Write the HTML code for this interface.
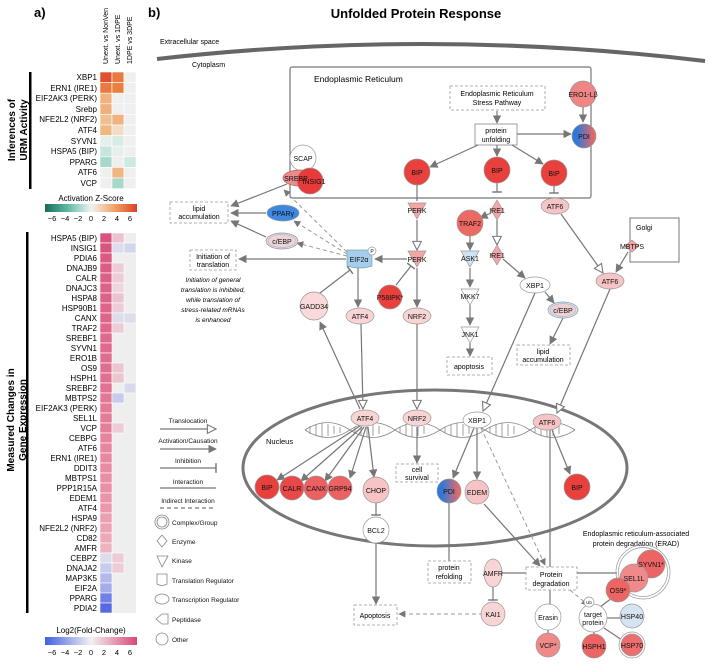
<!DOCTYPE html>
<html><head><meta charset="utf-8"><style>
html,body{margin:0;padding:0;background:#fff}
svg{display:block;font-family:"Liberation Sans",Arial,sans-serif}
</style></head><body>
<svg width="708" height="665" viewBox="0 0 708 665" xmlns="http://www.w3.org/2000/svg">
<defs>
<marker id="a" viewBox="0 0 10 10" refX="9" refY="5" markerWidth="7" markerHeight="7" orient="auto"><path d="M0,0L10,5L0,10z" fill="#777"/></marker>
<marker id="o" viewBox="0 0 10 10" refX="9" refY="5" markerWidth="9" markerHeight="9" orient="auto"><path d="M1,1L9,5L1,9z" fill="#fff" stroke="#777" stroke-width="1"/></marker>
<marker id="t" viewBox="0 0 10 10" refX="5" refY="5" markerWidth="8" markerHeight="8" orient="auto"><path d="M5,0L5,10" stroke="#777" stroke-width="1.5"/></marker>
<linearGradient id="pdi" x1="0" x2="1"><stop offset="0.2" stop-color="#2f78d8"/><stop offset="0.9" stop-color="#e36a6a"/></linearGradient>
<linearGradient id="zs" x1="0" x2="1"><stop offset="0" stop-color="#1a6b5a"/><stop offset="0.25" stop-color="#5fbca5"/><stop offset="0.5" stop-color="#f2f2f2"/><stop offset="0.75" stop-color="#f0a56a"/><stop offset="1" stop-color="#d84325"/></linearGradient>
<linearGradient id="fc" x1="0" x2="1"><stop offset="0" stop-color="#3f5fe0"/><stop offset="0.5" stop-color="#f2f2f2"/><stop offset="1" stop-color="#d94775"/></linearGradient>
</defs>

<!-- ===== Panel a ===== -->
<text x="34" y="17" font-size="13" font-weight="bold">a)</text>
<g font-size="7" text-anchor="start">
<text transform="translate(108,64) rotate(-90)">Unext. vs NonVen</text>
<text transform="translate(120,64) rotate(-90)">Unext. vs 1DPE</text>
<text transform="translate(132,64) rotate(-90)">1DPE vs 3DPE</text>
</g>
<rect x="29" y="72" width="2.5" height="117" fill="#000"/>
<text transform="translate(15,130) rotate(-90)" font-size="10" font-weight="bold" text-anchor="middle">Inferences of</text>
<text transform="translate(27,130) rotate(-90)" font-size="10" font-weight="bold" text-anchor="middle">URM Activity</text>
<g font-size="8" text-anchor="end">
<text x="97" y="80">XBP1</text><text x="97" y="91">ERN1 (IRE1)</text><text x="97" y="101">EIF2AK3 (PERK)</text><text x="97" y="112">Srebp</text><text x="97" y="122">NFE2L2 (NRF2)</text><text x="97" y="133">ATF4</text><text x="97" y="144">SYVN1</text><text x="97" y="154">HSPA5 (BIP)</text><text x="97" y="165">PPARG</text><text x="97" y="175">ATF6</text><text x="97" y="186">VCP</text>
</g>
<g stroke="#fff" stroke-width="0.6">
<rect x="100" y="72" width="12" height="10.6" fill="#e0502f"/><rect x="112" y="72" width="12" height="10.6" fill="#e8793f"/><rect x="124" y="72" width="12" height="10.6" fill="#efefef"/>
<rect x="100" y="82.6" width="12" height="10.6" fill="#e87a3f"/><rect x="112" y="82.6" width="12" height="10.6" fill="#e8803f"/><rect x="124" y="82.6" width="12" height="10.6" fill="#efefef"/>
<rect x="100" y="93.2" width="12" height="10.6" fill="#f0b27f"/><rect x="112" y="93.2" width="12" height="10.6" fill="#efefef"/><rect x="124" y="93.2" width="12" height="10.6" fill="#efefef"/>
<rect x="100" y="103.8" width="12" height="10.6" fill="#f0b07e"/><rect x="112" y="103.8" width="12" height="10.6" fill="#efefef"/><rect x="124" y="103.8" width="12" height="10.6" fill="#efefef"/>
<rect x="100" y="114.4" width="12" height="10.6" fill="#f0c090"/><rect x="112" y="114.4" width="12" height="10.6" fill="#f0b27f"/><rect x="124" y="114.4" width="12" height="10.6" fill="#efefef"/>
<rect x="100" y="125" width="12" height="10.6" fill="#f0b880"/><rect x="112" y="125" width="12" height="10.6" fill="#f2dcc8"/><rect x="124" y="125" width="12" height="10.6" fill="#efefef"/>
<rect x="100" y="135.6" width="12" height="10.6" fill="#e5efec"/><rect x="112" y="135.6" width="12" height="10.6" fill="#d8ece6"/><rect x="124" y="135.6" width="12" height="10.6" fill="#efefef"/>
<rect x="100" y="146.2" width="12" height="10.6" fill="#c5e5dd"/><rect x="112" y="146.2" width="12" height="10.6" fill="#e8eeec"/><rect x="124" y="146.2" width="12" height="10.6" fill="#efefef"/>
<rect x="100" y="156.8" width="12" height="10.6" fill="#a8d8cc"/><rect x="112" y="156.8" width="12" height="10.6" fill="#efefef"/><rect x="124" y="156.8" width="12" height="10.6" fill="#cce9e2"/>
<rect x="100" y="167.4" width="12" height="10.6" fill="#efefef"/><rect x="112" y="167.4" width="12" height="10.6" fill="#f0b880"/><rect x="124" y="167.4" width="12" height="10.6" fill="#efefef"/>
<rect x="100" y="178" width="12" height="10.6" fill="#efefef"/><rect x="112" y="178" width="12" height="10.6" fill="#a8d8cc"/><rect x="124" y="178" width="12" height="10.6" fill="#efefef"/>
</g>
<text x="91" y="201" font-size="8" text-anchor="middle">Activation Z-Score</text>
<rect x="45" y="204" width="92" height="8" fill="url(#zs)"/>
<g font-size="7.5" text-anchor="middle"><text x="52" y="221">−6</text><text x="65" y="221">−4</text><text x="78" y="221">−2</text><text x="91" y="221">0</text><text x="104" y="221">2</text><text x="117" y="221">4</text><text x="130" y="221">6</text></g>

<rect x="26" y="232" width="2.5" height="381" fill="#000"/>
<text transform="translate(14,420) rotate(-90)" font-size="10" font-weight="bold" text-anchor="middle">Measured Changes in</text>
<text transform="translate(26,420) rotate(-90)" font-size="10" font-weight="bold" text-anchor="middle">Gene Expression</text>
<g font-size="8" text-anchor="end">
<text x="97" y="241">HSPA5 (BIP)</text><text x="97" y="251">INSIG1</text><text x="97" y="261">PDIA6</text><text x="97" y="271">DNAJB9</text><text x="97" y="281">CALR</text><text x="97" y="291">DNAJC3</text><text x="97" y="301">HSPA8</text><text x="97" y="311">HSP90B1</text><text x="97" y="321">CANX</text><text x="97" y="331">TRAF2</text><text x="97" y="341">SREBF1</text><text x="97" y="351">SYVN1</text><text x="97" y="361">ERO1B</text><text x="97" y="371">OS9</text><text x="97" y="381">HSPH1</text><text x="97" y="391">SREBF2</text><text x="97" y="401">MBTPS2</text><text x="97" y="411">EIF2AK3 (PERK)</text><text x="97" y="421">SEL1L</text><text x="97" y="431">VCP</text><text x="97" y="441">CEBPG</text><text x="97" y="451">ATF6</text><text x="97" y="461">ERN1 (IRE1)</text><text x="97" y="471">DDIT3</text><text x="97" y="481">MBTPS1</text><text x="97" y="491">PPP1R15A</text><text x="97" y="501">EDEM1</text><text x="97" y="511">ATF4</text><text x="97" y="521">HSPA9</text><text x="97" y="531">NFE2L2 (NRF2)</text><text x="97" y="541">CD82</text><text x="97" y="551">AMFR</text><text x="97" y="561">CEBPZ</text><text x="97" y="571">DNAJA2</text><text x="97" y="581">MAP3K5</text><text x="97" y="591">EIF2A</text><text x="97" y="601">PPARG</text><text x="97" y="611">PDIA2</text>
</g>
<rect x="112" y="233" width="24" height="380" fill="#eeeeee"/>
<g stroke="#fff" stroke-width="0.6">
<rect x="100" y="233" width="12" height="10" fill="#d9557e"/><rect x="100" y="243" width="12" height="10" fill="#d9557e"/><rect x="100" y="253" width="12" height="10" fill="#db5a82"/><rect x="100" y="263" width="12" height="10" fill="#dc5d84"/><rect x="100" y="273" width="12" height="10" fill="#dc6086"/><rect x="100" y="283" width="12" height="10" fill="#dd6288"/><rect x="100" y="293" width="12" height="10" fill="#dd6288"/><rect x="100" y="303" width="12" height="10" fill="#de6589"/><rect x="100" y="313" width="12" height="10" fill="#de6589"/><rect x="100" y="323" width="12" height="10" fill="#df688b"/><rect x="100" y="333" width="12" height="10" fill="#df6a8d"/><rect x="100" y="343" width="12" height="10" fill="#df6a8d"/><rect x="100" y="353" width="12" height="10" fill="#e06c8f"/><rect x="100" y="363" width="12" height="10" fill="#e06e90"/><rect x="100" y="373" width="12" height="10" fill="#e07091"/><rect x="100" y="383" width="12" height="10" fill="#e17293"/><rect x="100" y="393" width="12" height="10" fill="#e27896"/><rect x="100" y="403" width="12" height="10" fill="#e27a98"/><rect x="100" y="413" width="12" height="10" fill="#e37c99"/><rect x="100" y="423" width="12" height="10" fill="#e47f9b"/><rect x="100" y="433" width="12" height="10" fill="#e5849f"/><rect x="100" y="443" width="12" height="10" fill="#e686a1"/><rect x="100" y="453" width="12" height="10" fill="#e788a2"/><rect x="100" y="463" width="12" height="10" fill="#e88ca5"/><rect x="100" y="473" width="12" height="10" fill="#e88ea6"/><rect x="100" y="483" width="12" height="10" fill="#e990a8"/><rect x="100" y="493" width="12" height="10" fill="#ea94ab"/><rect x="100" y="503" width="12" height="10" fill="#eb98ae"/><rect x="100" y="513" width="12" height="10" fill="#ec9eb2"/><rect x="100" y="523" width="12" height="10" fill="#eda2b5"/><rect x="100" y="533" width="12" height="10" fill="#eea8b9"/><rect x="100" y="543" width="12" height="10" fill="#efb2c0"/><rect x="100" y="553" width="12" height="10" fill="#dcdcea"/><rect x="100" y="563" width="12" height="10" fill="#c8cbec"/><rect x="100" y="573" width="12" height="10" fill="#b4b9ec"/><rect x="100" y="583" width="12" height="10" fill="#a4acea"/><rect x="100" y="593" width="12" height="10" fill="#7080e4"/><rect x="100" y="603" width="12" height="10" fill="#5868e0"/>
<rect x="112" y="233" width="12" height="10" fill="#ebc3cf"/><rect x="112" y="243" width="12" height="10" fill="#dcdcec"/><rect x="112" y="263" width="12" height="10" fill="#ecccd6"/><rect x="112" y="273" width="12" height="10" fill="#ecccd6"/><rect x="112" y="283" width="12" height="10" fill="#eed6dd"/><rect x="112" y="293" width="12" height="10" fill="#ebc3cf"/><rect x="112" y="303" width="12" height="10" fill="#ecccd6"/><rect x="112" y="313" width="12" height="10" fill="#dcdcec"/><rect x="112" y="323" width="12" height="10" fill="#ecccd6"/><rect x="112" y="363" width="12" height="10" fill="#ebc6d1"/><rect x="112" y="373" width="12" height="10" fill="#ebc6d1"/><rect x="112" y="393" width="12" height="10" fill="#c8cbec"/><rect x="112" y="423" width="12" height="10" fill="#ecccd6"/><rect x="112" y="553" width="12" height="10" fill="#ecccd6"/><rect x="112" y="563" width="12" height="10" fill="#ecccd6"/>
<rect x="124" y="243" width="12" height="10" fill="#d4d6ec"/><rect x="124" y="313" width="12" height="10" fill="#dcdcea"/><rect x="124" y="383" width="12" height="10" fill="#d8d9ec"/>
</g>
<text x="91" y="633" font-size="8" text-anchor="middle">Log2(Fold-Change)</text>
<rect x="45" y="637" width="92" height="8" fill="url(#fc)"/>
<g font-size="7.5" text-anchor="middle"><text x="52" y="655">−6</text><text x="65" y="655">−4</text><text x="78" y="655">−2</text><text x="91" y="655">0</text><text x="104" y="655">2</text><text x="117" y="655">4</text><text x="130" y="655">6</text></g>

<!-- ===== Panel b ===== -->
<text x="148" y="17" font-size="13" font-weight="bold">b)</text>
<text x="416" y="18" font-size="13" font-weight="bold" text-anchor="middle">Unfolded Protein Response</text>
<text x="160" y="44" font-size="7">Extracellular space</text>
<path d="M157,59 Q430,28 705,61" fill="none" stroke="#666" stroke-width="4"/>
<text x="192" y="67" font-size="7">Cytoplasm</text>

<rect x="290" y="67" width="301" height="131" fill="none" stroke="#777" stroke-width="1.2" rx="2"/>
<text x="314" y="82" font-size="8.5">Endoplasmic Reticulum</text>
<rect x="450" y="86" width="95" height="24" fill="#fff" stroke="#999" stroke-dasharray="3,2" stroke-width="0.8"/>
<text x="497" y="96" font-size="7" text-anchor="middle">Endoplasmic Reticulum</text><text x="497" y="105" font-size="7" text-anchor="middle">Stress Pathway</text>
<rect x="475" y="124" width="42" height="21" fill="#fff" stroke="#888" stroke-width="0.8"/>
<text x="496" y="133" font-size="7" text-anchor="middle">protein</text><text x="496" y="142" font-size="7" text-anchor="middle">unfolding</text>

<!-- Golgi -->
<rect x="630" y="218" width="49" height="44" fill="#fff" stroke="#777" stroke-width="1"/>
<text x="636" y="230" font-size="7">Golgi</text>

<!-- Nucleus -->
<ellipse cx="435" cy="468" rx="192" ry="78" fill="none" stroke="#777" stroke-width="3"/>
<text x="266" y="444" font-size="7.5">Nucleus</text>
<g fill="none" stroke="#888" stroke-width="0.8">
<path d="M305,430 C320,420 335,420 350,430 S380,440 395,430 S425,420 440,430 S470,440 485,430 S515,420 530,430 S560,440 575,430"/>
<path d="M305,430 C320,440 335,440 350,430 S380,420 395,430 S425,440 440,430 S470,420 485,430 S515,440 530,430 S560,420 575,430"/>
<path d="M310,426v8M316,424v12M322,423v14M328,424v12M334,426v8M340,427v6M355,427v6M361,425v10M367,423v14M373,424v12M379,426v8M400,427v6M406,425v10M412,423v14M418,424v12M424,426v8M445,427v6M451,425v10M457,423v14M463,424v12M469,426v8M490,427v6M496,425v10M502,423v14M508,424v12M514,426v8M535,427v6M541,425v10M547,423v14M553,424v12M559,426v8"/>
</g>

<!-- connectors -->
<g stroke="#777" stroke-width="1.2" fill="none">
<path d="M497,111V123" marker-end="url(#a)"/>
<path d="M517,134H571" marker-end="url(#a)"/>
<path d="M478,145L430,167" marker-end="url(#a)"/>
<path d="M497,145V156" marker-end="url(#a)"/>
<path d="M512,145L543,164" marker-end="url(#a)"/>
<path d="M583,107V122" marker-end="url(#a)"/>
<path d="M417,185V201"/>
<path d="M497,183V192" marker-end="url(#t)"/>
<path d="M554,186V193" marker-end="url(#t)"/>
<path d="M417,220V250" marker-end="url(#o)"/>
<path d="M407,259H375" marker-end="url(#a)"/>
<path d="M417,268V307" marker-end="url(#a)"/>
<path d="M358,268V307" marker-end="url(#a)"/>
<path d="M346,259H239" marker-end="url(#a)"/>
<path d="M320,293L350,270" marker-end="url(#t)"/>
<path d="M396,285L411,266" marker-end="url(#t)"/>
<path d="M287,184L231,206" marker-end="url(#a)"/>
<path d="M266,213H231" marker-end="url(#a)"/>
<path d="M266,237L231,221" marker-end="url(#a)"/>
<path d="M491,213L480,218" marker-end="url(#a)"/>
<path d="M497,220V245" marker-end="url(#o)"/>
<path d="M470,236V250" marker-end="url(#a)"/>
<path d="M470,268V287" marker-end="url(#a)"/>
<path d="M470,305V325" marker-end="url(#a)"/>
<path d="M470,343V356" marker-end="url(#a)"/>
<path d="M503,259L525,278" marker-end="url(#a)"/>
<path d="M545,292L554,303" marker-end="url(#a)"/>
<path d="M563,318L550,344" marker-end="url(#a)"/>
<path d="M561,214L603,273" marker-end="url(#o)"/>
<path d="M628,252L616,272" marker-end="url(#a)"/>
<path d="M535,293L483,411" marker-end="url(#o)"/>
<path d="M610,289L557,413" marker-end="url(#o)"/>
<path d="M360,409L320,322" marker-end="url(#a)"/>
<path d="M361,324L363,409" marker-end="url(#o)"/>
<path d="M417,324V409" marker-end="url(#o)"/>
<path d="M360,426L277,480" marker-end="url(#a)"/>
<path d="M362,427L301,481" marker-end="url(#a)"/>
<path d="M364,427L325,481" marker-end="url(#a)"/>
<path d="M366,427L350,478" marker-end="url(#a)"/>
<path d="M368,427L374,477" marker-end="url(#a)"/>
<path d="M376,503V515" marker-end="url(#t)"/>
<path d="M376,543V604" marker-end="url(#a)"/>
<path d="M417,427V463" marker-end="url(#a)"/>
<path d="M474,428L453,478" marker-end="url(#a)"/>
<path d="M477,428V479" marker-end="url(#a)"/>
<path d="M484,504L540,566" marker-end="url(#a)"/>
<path d="M552,430L570,474" marker-end="url(#a)"/>
<path d="M550,430V567"/>
<path d="M449,503V561"/>
<path d="M502,573H526"/>
<path d="M493,587V600" marker-end="url(#t)"/>
<path d="M577,573H617"/>
<path d="M550,590V604"/>
<path d="M548,630V634"/>
<path d="M600,607L612,598"/>
<path d="M607,618H620"/>
<path d="M594,632V634"/>
<path d="M604,628L622,640"/>
</g>
<g stroke="#999" stroke-width="1" fill="none" stroke-dasharray="4,3">
<path d="M347,252L284,190" marker-end="url(#a)"/>
<path d="M347,254L294,221" marker-end="url(#a)"/>
<path d="M347,256L297,243" marker-end="url(#a)"/>
<path d="M481,428L545,565" marker-end="url(#a)"/>
<path d="M483,614H399" marker-end="url(#a)"/>
<path d="M570,590L588,605" marker-end="url(#a)"/>
</g>

<!-- dashed boxes -->
<g fill="#fff" stroke="#999" stroke-dasharray="3,2" stroke-width="0.8">
<rect x="170" y="202" width="58" height="21"/>
<rect x="190" y="250" width="46" height="20"/>
<rect x="447" y="357" width="45" height="18"/>
<rect x="517" y="345" width="53" height="20"/>
<rect x="396" y="464" width="42" height="18"/>
<rect x="428" y="561" width="43" height="22"/>
<rect x="526" y="567" width="51" height="23"/>
<rect x="354" y="605" width="43" height="20"/>
</g>
<g font-size="7" text-anchor="middle">
<text x="199" y="211">lipid</text><text x="199" y="219">accumulation</text>
<text x="213" y="259">Initiation of</text><text x="213" y="267">translation</text>
<text x="469" y="369">apoptosis</text>
<text x="543" y="354">lipid</text><text x="543" y="362">accumulation</text>
<text x="417" y="472">cell</text><text x="417" y="480">survival</text>
<text x="449" y="570">protein</text><text x="449" y="579">refolding</text>
<text x="551" y="577">Protein</text><text x="551" y="586">degradation</text>
<text x="375" y="618">Apoptosis</text>
</g>
<g font-size="6.5" font-style="italic" text-anchor="middle">
<text x="213" y="282">Initiation of general</text><text x="213" y="292">translation is inhibited,</text><text x="213" y="302">while translation of</text><text x="213" y="312">stress-related mRNAs</text><text x="213" y="322">is enhanced</text>
</g>
<g font-size="7" text-anchor="middle">
<text x="636" y="536">Endoplasmic reticulum-associated</text><text x="636" y="546">protein degradation (ERAD)</text>
</g>

<!-- nodes -->
<g stroke="#999" stroke-width="0.7" font-size="7" text-anchor="middle">
<circle cx="583" cy="94" r="13" fill="#ef8585"/>
<circle cx="584" cy="136" r="12" fill="url(#pdi)"/>
<circle cx="417" cy="172" r="13" fill="#e8403c"/>
<circle cx="497" cy="170" r="13" fill="#e8403c"/>
<circle cx="554" cy="173" r="13" fill="#e8403c"/>
<circle cx="303" cy="158" r="13" fill="#fff"/>
<ellipse cx="300" cy="178" rx="17" ry="8" fill="#ef8a8a" stroke="#a66"/>
<circle cx="310" cy="181" r="13" fill="#e83a3a"/>
<ellipse cx="283" cy="213" rx="16" ry="8" fill="#3e88e0"/>
<ellipse cx="282" cy="241" rx="16" ry="8" fill="#f5d5d5" stroke="#89a"/>
<ellipse cx="282" cy="241" rx="14" ry="6.5" fill="#eed4d8" stroke="#abc"/>
<path d="M347,250H372V266Q360,270 347,266Z" fill="#a6ccf0" stroke="#7a9"/>
<circle cx="372" cy="251" r="4" fill="#fff"/>
<path d="M408,203H426L417,219Z" fill="#f4a5a5"/>
<path d="M408,251H426L417,267Z" fill="#f4a5a5"/>
<circle cx="390" cy="297" r="12" fill="#e8403c"/>
<circle cx="314" cy="306" r="14" fill="#f9d9d9"/>
<ellipse cx="360" cy="316" rx="14" ry="8" fill="#f9d4d4"/>
<ellipse cx="417" cy="316" rx="14" ry="8" fill="#f9d4d4"/>
<path d="M497,200L503,210L497,220L491,210Z" fill="#f4a5a5"/>
<path d="M497,245L503,255L497,265L491,255Z" fill="#f4a5a5"/>
<circle cx="470" cy="223" r="13" fill="#ec6a62"/>
<path d="M461,251H479L470,267Z" fill="#cfe3f5"/>
<path d="M461,289H479L470,305Z" fill="#fff"/>
<path d="M461,327H479L470,343Z" fill="#fff"/>
<ellipse cx="555" cy="206" rx="14" ry="8" fill="#f6c4c4"/>
<path d="M632,240L639,246L632,252L625,246Z" fill="#f4a5a5"/>
<ellipse cx="610" cy="281" rx="14" ry="8" fill="#f6c4c4"/>
<ellipse cx="535" cy="285" rx="15" ry="8" fill="#fff"/>
<ellipse cx="563" cy="310" rx="15" ry="8" fill="#dde8f3" stroke="#89a"/>
<ellipse cx="563" cy="310" rx="13" ry="6.5" fill="#eed0d4" stroke="#abc"/>
<ellipse cx="365" cy="418" rx="14" ry="8" fill="#f9d4d4"/>
<ellipse cx="417" cy="418" rx="14" ry="8" fill="#f9d4d4"/>
<ellipse cx="477" cy="420" rx="14" ry="8" fill="#fff"/>
<ellipse cx="547" cy="422" rx="14" ry="8" fill="#f6c4c4"/>
<circle cx="267" cy="487" r="12" fill="#e8403c"/>
<circle cx="292" cy="488" r="12" fill="#e84848"/>
<circle cx="316" cy="488" r="12" fill="#ec6060"/>
<circle cx="340" cy="488" r="12" fill="#ec6262"/>
<circle cx="376" cy="490" r="13" fill="#f6c4c4"/>
<circle cx="376" cy="530" r="13" fill="#fff"/>
<circle cx="449" cy="491" r="12" fill="url(#pdi)"/>
<circle cx="477" cy="492" r="12" fill="#f6c4c4"/>
<circle cx="577" cy="487" r="13" fill="#e8403c"/>
<ellipse cx="493" cy="573" rx="9" ry="14" fill="#f9d4d4"/>
<circle cx="493" cy="614" r="12" fill="#f9d4d4"/>
<circle cx="548" cy="617" r="13" fill="#fff"/>
<circle cx="548" cy="645" r="12" fill="#f08a8a"/>
<circle cx="593" cy="618" r="14" fill="#fff"/>
<circle cx="589" cy="602" r="5" fill="#fff"/>
<circle cx="594" cy="646" r="12" fill="#ec6464"/>
<circle cx="632" cy="616" r="12" fill="#d6e4f2"/>
<circle cx="632" cy="645" r="13" fill="#fff"/>
<circle cx="632" cy="645" r="11" fill="#ec6e6e"/>
<circle cx="643" cy="572" r="27" fill="none"/>
<circle cx="643" cy="572" r="24.5" fill="none"/>
<circle cx="651" cy="564" r="14" fill="#ec6464"/>
<circle cx="634" cy="578" r="14" fill="#f08a8a"/>
<circle cx="618" cy="590" r="12" fill="#ec6464"/>
</g>
<g font-size="7" text-anchor="middle" fill="#111">
<text x="583" y="97">ERO1-Lβ</text><text x="584" y="139">PDI</text>
<text x="417" y="175">BIP</text><text x="497" y="173">BIP</text><text x="554" y="176">BIP</text>
<text x="303" y="161">SCAP</text><text x="296" y="181">SREBP</text><text x="314" y="184">INSIG1</text>
<text x="283" y="216">PPARγ</text><text x="282" y="244">c/EBP</text>
<text x="359" y="262">EIF2α</text><text x="372" y="253" font-size="5">P</text>
<text x="417" y="213">PERK</text><text x="417" y="262">PERK</text>
<text x="390" y="300">P58IPK*</text><text x="314" y="309">GADD34</text>
<text x="360" y="319">ATF4</text><text x="417" y="319">NRF2</text>
<text x="497" y="213">IRE1</text><text x="497" y="258">IRE1</text>
<text x="470" y="226">TRAF2</text><text x="470" y="261">ASK1</text><text x="470" y="299">MKK7</text><text x="470" y="337">JNK1</text>
<text x="555" y="209">ATF6</text><text x="632" y="249">MBTPS</text><text x="610" y="284">ATF6</text>
<text x="535" y="288">XBP1</text><text x="563" y="313">c/EBP</text>
<text x="365" y="421">ATF4</text><text x="417" y="421">NRF2</text><text x="477" y="423">XBP1</text><text x="547" y="425">ATF6</text>
<text x="267" y="490">BIP</text><text x="292" y="491">CALR</text><text x="316" y="491">CANX</text><text x="340" y="491">GRP94</text><text x="376" y="493">CHOP</text><text x="376" y="533">BCL2</text>
<text x="449" y="494">PDI</text><text x="477" y="495">EDEM</text><text x="577" y="490">BIP</text>
<text x="493" y="576">AMFR</text><text x="493" y="617">KAI1</text>
<text x="548" y="620">Erasin</text><text x="548" y="648">VCP*</text>
<text x="593" y="617">target</text><text x="593" y="625">protein</text><text x="589" y="604" font-size="4.5">Ub</text>
<text x="594" y="649">HSPH1</text><text x="632" y="619">HSP40</text><text x="632" y="648">HSP70</text>
<text x="651" y="567">SYVN1*</text><text x="634" y="581">SEL1L</text><text x="618" y="593">OS9*</text>
</g>

<!-- legend -->
<g font-size="6.5" text-anchor="middle" fill="#111">
<text x="188" y="423">Translocation</text><text x="188" y="443">Activation/Causation</text><text x="188" y="463">Inhibition</text><text x="188" y="484">Interaction</text><text x="188" y="503">Indirect Interaction</text>
</g>
<g stroke="#777" stroke-width="1.2" fill="none">
<path d="M160,429H216" marker-end="url(#o)"/>
<path d="M160,449H216" marker-end="url(#a)"/>
<path d="M160,468H216" marker-end="url(#t)"/>
<path d="M160,488H216"/>
<path d="M160,508H216" stroke-dasharray="4,3"/>
</g>
<g fill="none" stroke="#888" stroke-width="0.8">
<circle cx="162" cy="522" r="7"/><circle cx="162" cy="522" r="5"/>
<path d="M162,535L167,541L162,547L157,541Z"/>
<path d="M157,556H168L162,567Z"/>
<path d="M157,574H167V584Q162,587 157,584Z"/>
<ellipse cx="162" cy="599" rx="7" ry="5"/>
<path d="M156,619L162,614H168V624H162Z"/>
<circle cx="162" cy="639" r="6"/>
</g>
<g font-size="6.5" fill="#111">
<text x="172" y="525">Complex/Group</text><text x="172" y="544">Enzyme</text><text x="172" y="563">Kinase</text><text x="172" y="583">Translation Regulator</text><text x="172" y="602">Transcription Regulator</text><text x="172" y="622">Peptidase</text><text x="172" y="642">Other</text>
</g>
</svg>
</body></html>
